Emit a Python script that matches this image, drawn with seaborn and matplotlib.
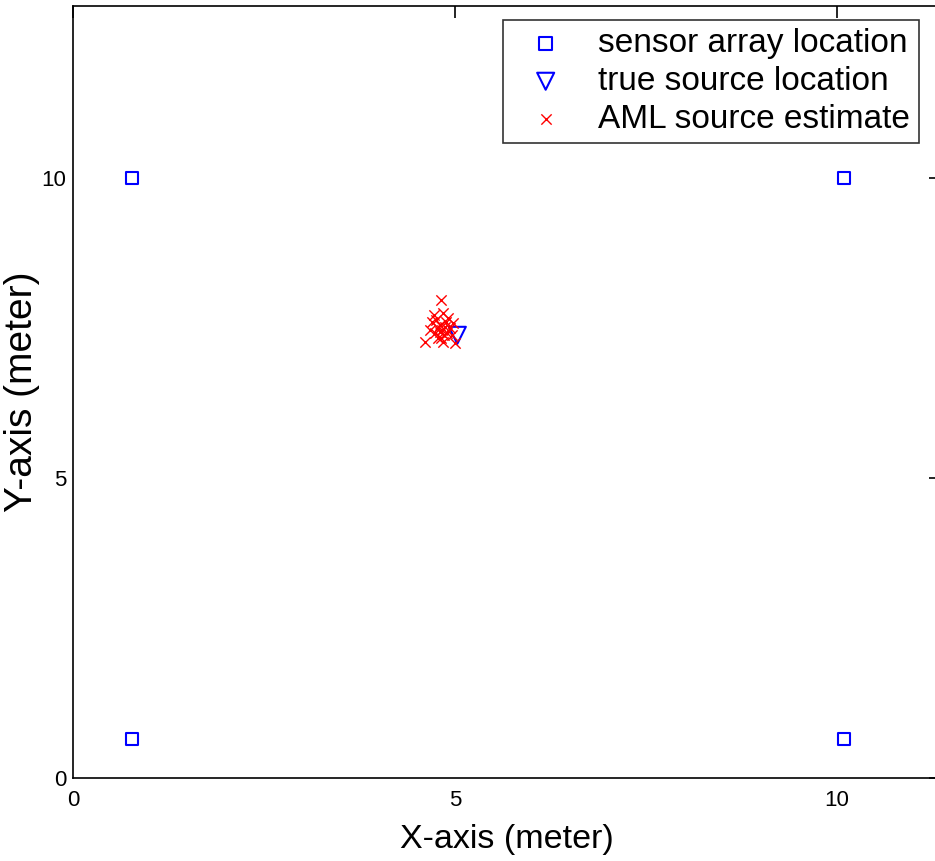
import matplotlib
matplotlib.use("Agg")
import matplotlib.pyplot as plt
import seaborn as sns
import numpy as np

# Sensor array positions (meters)
sensor_x = [0.77, 10.09, 0.77, 10.09]
sensor_y = [10.0, 10.0, 0.65, 0.65]

# True source position
source_x = [5.03]
source_y = [7.38]

# AML estimates from repeated trials
est_x = [4.82, 4.73, 4.84, 4.70, 4.97, 4.61, 4.83, 4.90, 4.74, 4.84, 5.00, 4.78,
         4.93, 4.67, 4.80, 4.87, 4.78, 4.86, 4.75, 4.91, 4.82, 4.96, 4.80, 4.88]
est_y = [7.97, 7.72, 7.75, 7.60, 7.58, 7.27, 7.47, 7.42, 7.42, 7.27, 7.25, 7.33,
         7.50, 7.47, 7.55, 7.52, 7.50, 7.38, 7.63, 7.67, 7.33, 7.38, 7.43, 7.60]

sns.set_theme(style="white")
plt.rcParams["font.family"] = ["Liberation Sans", "DejaVu Sans"]
plt.rcParams["text.color"] = "black"
plt.rcParams["axes.labelcolor"] = "black"
plt.rcParams["xtick.color"] = "black"
plt.rcParams["ytick.color"] = "black"

W, H = 935, 861
fig = plt.figure(figsize=(W / 100, H / 100), dpi=100)
left, right, bottom, top = 73, 941, 778, 6
ax = fig.add_axes([left / W, (H - bottom) / H, (right - left) / W, (bottom - top) / H])
ax.set_facecolor("white")

sns.scatterplot(x=sensor_x, y=sensor_y, ax=ax, marker="s", s=80,
                facecolors="none", edgecolors="blue", linewidths=1.5,
                label="sensor array location")
sns.scatterplot(x=source_x, y=source_y, ax=ax, marker="v", s=150,
                facecolors="none", edgecolors="blue", linewidths=1.5,
                label="true source location")
sns.scatterplot(x=est_x, y=est_y, ax=ax, marker="x", s=55,
                color="red", linewidths=1.0,
                label="AML source estimate")

ax.set_xlim(0, 11.36)
ax.set_ylim(0, 12.87)
ax.set_xticks([0, 5, 10])
ax.set_yticks([0, 5, 10])
ax.tick_params(direction="in", length=8.5, width=1.2, top=True, right=True,
               labelsize=16, colors="black")
ax.tick_params(axis="x", pad=9)
ax.tick_params(axis="y", pad=5)
for sp in ax.spines.values():
    sp.set_visible(True)
    sp.set_color("black")
    sp.set_linewidth(1.2)

ax.set_xlabel("X-axis (meter)", fontsize=24.5, labelpad=9)
ax.set_ylabel("Y-axis (meter)", fontsize=28, labelpad=1)

leg = ax.legend(loc="upper left", bbox_to_anchor=(503 / W, 1 - 20 / H),
                bbox_transform=fig.transFigure, borderaxespad=0,
                fontsize=24, frameon=True, fancybox=False, edgecolor="black",
                handletextpad=0.55, labelspacing=0.2, borderpad=0.25,
                handlelength=2.06)
leg.get_frame().set_linewidth(1.2)
for t in leg.get_texts():
    t.set_color("black")

fig.savefig("out.png", dpi=100)
